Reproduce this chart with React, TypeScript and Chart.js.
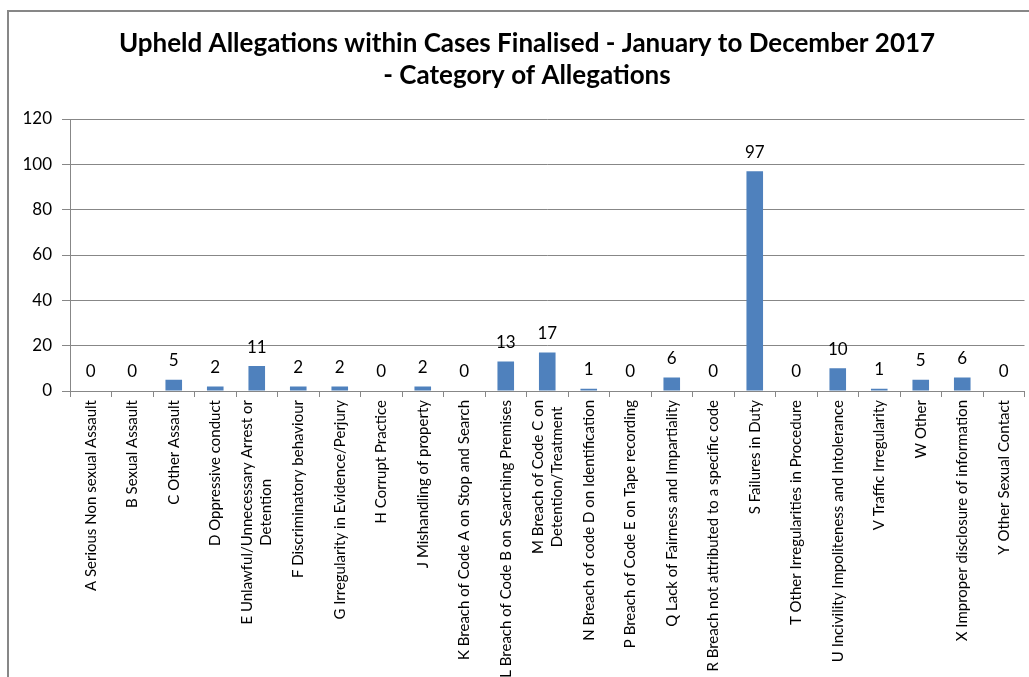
import React, { useEffect, useRef } from "react";
import { Chart, registerables } from "chart.js";

Chart.register(...registerables);

const titleLines = [
  "Upheld Allegations within Cases Finalised - January to December 2017",
  "- Category of Allegations",
];

const categories: (string | string[])[] = [
  "A Serious Non sexual Assault",
  "B Sexual Assault",
  "C Other Assault",
  "D Oppressive conduct",
  ["E Unlawful/Unnecessary Arrest or", "Detention"],
  "F Discriminatory behaviour",
  "G Irregularity in Evidence/Perjury",
  "H Corrupt Practice",
  "J Mishandling of property",
  "K Breach of Code A on Stop and Search",
  "L Breach of Code B on Searching Premises",
  ["M Breach of Code C on", "Detention/Treatment"],
  "N Breach of code D on Identification",
  "P Breach of Code E on Tape recording",
  "Q Lack of Fairness and Impartiality",
  "R Breach not attributed to a specific code",
  "S Failures in Duty",
  "T Other Irregularities in Procedure",
  "U Incivility Impoliteness and Intolerance",
  "V Traffic Irregularity",
  "W Other",
  "X Improper disclosure of information",
  "Y Other Sexual Contact",
];

const values = [0, 0, 5, 2, 11, 2, 2, 0, 2, 0, 13, 17, 1, 0, 6, 0, 97, 0, 10, 1, 5, 6, 0];

const yTicks = [0, 20, 40, 60, 80, 100, 120];

const FONT = "Lato, 'Liberation Sans', sans-serif";

const framePlugin = {
  id: "frameAndTitle",
  beforeDraw(chart: any) {
    const ctx = chart.ctx;
    ctx.save();
    ctx.fillStyle = "#ffffff";
    ctx.fillRect(0, 0, chart.width, chart.height);
    ctx.strokeStyle = "#878787";
    ctx.lineWidth = 2;
    ctx.strokeRect(8, 11, 1200, 1000);
    ctx.fillStyle = "#000000";
    ctx.font = `bold 26px ${FONT}`;
    ctx.textAlign = "center";
    ctx.textBaseline = "middle";
    ctx.fillText(titleLines[0], 527, 44);
    ctx.fillText(titleLines[1], 527, 76);
    ctx.restore();
  },
};

const labelsPlugin = {
  id: "valueAndCategoryLabels",
  afterDatasetsDraw(chart: any) {
    const ctx = chart.ctx;
    const meta = chart.getDatasetMeta(0);
    const xScale = chart.scales.x;
    ctx.save();
    ctx.fillStyle = "#000000";
    ctx.font = `17px ${FONT}`;
    ctx.textAlign = "center";
    ctx.textBaseline = "middle";
    meta.data.forEach((bar: any, i: number) => {
      ctx.fillText(String(values[i]), bar.x, bar.y - 19);
    });
    // category labels, rotated
    const axisY = chart.chartArea.bottom;
    ctx.font = `15px ${FONT}`;
    const lh = 19;
    categories.forEach((c, i) => {
      const lines = Array.isArray(c) ? c : [c];
      const x = xScale.getPixelForValue(i);
      ctx.save();
      ctx.translate(x, axisY + 9);
      ctx.rotate(-Math.PI / 2);
      const maxW = Math.max(...lines.map((l) => ctx.measureText(l).width));
      lines.forEach((l, j) => {
        const ry = (j - (lines.length - 1) / 2) * lh;
        if (lines.length === 1) {
          ctx.textAlign = "right";
          ctx.fillText(l, 0, ry);
        } else {
          ctx.textAlign = "center";
          ctx.fillText(l, -maxW / 2, ry);
        }
      });
      ctx.restore();
    });
    ctx.restore();
  },
};

export default function App() {
  const ref = useRef<HTMLCanvasElement>(null);
  useEffect(() => {
    if (!ref.current) return;
    const chart = new Chart(ref.current, {
      type: "bar",
      data: {
        labels: categories as any,
        datasets: [
          {
            data: values,
            backgroundColor: "#4F81BD",
            borderWidth: 0,
            categoryPercentage: 1,
            barPercentage: 0.4,
          },
        ],
      },
      options: {
        animation: false,
        responsive: false,
        devicePixelRatio: 1,
        layout: { padding: { top: 119, left: 0, right: 4.5, bottom: 0 } },
        plugins: {
          legend: { display: false },
          title: { display: false },
          tooltip: { enabled: false },
        },
        scales: {
          x: {
            afterFit(scale: any) {
              scale.height = 677 - 391;
            },
            ticks: { display: false },
            border: { display: true, color: "#878787", width: 1 },
            grid: {
              display: true,
              drawOnChartArea: false,
              drawTicks: true,
              tickLength: 6,
              color: "#878787",
              offset: true,
            },
          },
          y: {
            min: 0,
            max: 120,
            afterFit(scale: any) {
              scale.width = 70;
            },
            afterBuildTicks(scale: any) {
              scale.ticks = yTicks.map((v) => ({ value: v }));
            },
            ticks: {
              color: "#000000",
              font: { family: FONT, size: 17 },
              padding: 10,
            },
            border: { display: true, color: "#878787", width: 1 },
            grid: {
              color: "#878787",
              drawTicks: true,
              tickLength: 8,
            },
          },
        },
      },
      plugins: [framePlugin, labelsPlugin],
    });
    return () => chart.destroy();
  }, []);
  return (
    <div style={{ position: "absolute", left: 0, top: 0 }}>
      <canvas ref={ref} width={1029} height={677} style={{ display: "block" }} />
    </div>
  );
}
